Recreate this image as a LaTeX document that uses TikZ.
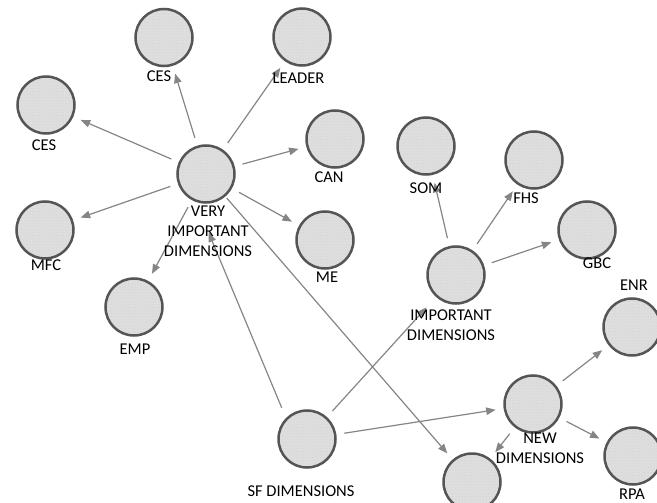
\documentclass[tikz,border=0pt]{standalone}
\usepackage{fontspec}
\setmainfont{Carlito}
\usetikzlibrary{arrows.meta,patterns}

\definecolor{dimfill}{HTML}{DEDEDE}
\definecolor{dimline}{HTML}{555555}
\definecolor{linkgray}{HTML}{858585}

\begin{document}
\begin{tikzpicture}[x=10pt,y=-10pt,
    dim/.style={circle,draw=dimline,line width=2.5pt,preaction={fill=dimfill},
        pattern=dots,pattern color=gray!40,minimum size=57pt,inner sep=0pt},
    link/.style={-{Triangle[length=9.5pt,width=7.5pt]},draw=linkgray,line width=1.2pt,
        shorten <=8pt,shorten >=8pt},
    tag/.style={font=\fontsize{16.5}{20}\selectfont,text=black,align=center,inner sep=0pt}]
    \useasboundingbox (0,0) rectangle (65.7,50.3);

    % dimensions
    \node [dim] (very) at (20.6,17.4) {};
    \node [dim] (ces_top) at (16.4,3.75) {};
    \node [dim] (leader) at (30.2,3.7) {};
    \node [dim] (ces_left) at (4.6,10.5) {};
    \node [dim] (can) at (33.5,13.9) {};
    \node [dim] (mfc) at (4.5,23.0) {};
    \node [dim] (me) at (32.5,24.0) {};
    \node [dim] (emp) at (13.4,30.7) {};
    \node [dim] (sf) at (30.7,43.9) {};
    \node [dim] (blank) at (47.2,48.2) {};
    \node [dim] (imp) at (45.6,27.5) {};
    \node [dim] (som) at (42.6,14.6) {};
    \node [dim] (fhs) at (53.4,16.0) {};
    \node [dim] (gbc) at (58.7,23.0) {};
    \node [dim] (new) at (53.3,40.4) {};
    \node [dim] (enr) at (63.2,32.7) {};
    \node [dim] (rpa) at (63.3,45.6) {};

    \draw [link] (very) -- (ces_top);
    \draw [link] (very) -- (leader);
    \draw [link] (very) -- (ces_left);
    \draw [link] (very) -- (can);
    \draw [link] (very) -- (mfc);
    \draw [link] (very) -- (me);
    \draw [link] (very) -- (emp);
    \draw [link,shorten <=2pt] (very) -- (blank);
    \draw [link,shorten <=11pt,shorten >=33pt] (sf.135) -- (very.250);
    \draw [link,shorten >=14pt] (sf) -- (imp);
    \draw [link] (sf) -- (new);
    \draw [link] (imp) -- (som);
    \draw [link] (imp) -- (fhs);
    \draw [link] (imp) -- (gbc);
    \draw [link] (new) -- (enr);
    \draw [link] (new) -- (rpa);
    \draw [link] (new) -- (blank);

    % labels
    \node [tag] (very_tag) at (20.8,23.1) {VERY\\IMPORTANT\\DIMENSIONS};
    \node [tag] (ces_top_tag) at (15.9,7.6) {CES};
    \node [tag] (leader_tag) at (29.85,7.8) {LEADER};
    \node [tag] (ces_left_tag) at (4.4,14.5) {CES};
    \node [tag] (can_tag) at (32.9,17.7) {CAN};
    \node [tag] (mfc_tag) at (4.6,26.5) {MFC};
    \node [tag] (me_tag) at (32.7,27.7) {ME};
    \node [tag] (emp_tag) at (13.5,34.9) {EMP};
    \node [tag] (sf_tag) at (30.1,49.1) {SF DIMENSIONS};
    \node [tag] (imp_tag) at (45.1,32.5) {IMPORTANT\\DIMENSIONS};
    \node [tag] (som_tag) at (42.6,18.8) {SOM};
    \node [tag] (fhs_tag) at (52.6,19.8) {FHS};
    \node [tag] (gbc_tag) at (59.7,26.3) {GBC};
    \node [tag] (new_tag) at (54.0,44.8) {NEW\\DIMENSIONS};
    \node [tag] (enr_tag) at (63.4,28.5) {ENR};
    \node [tag] (rpa_tag) at (63.2,49.4) {RPA};
\end{tikzpicture}
\end{document}
